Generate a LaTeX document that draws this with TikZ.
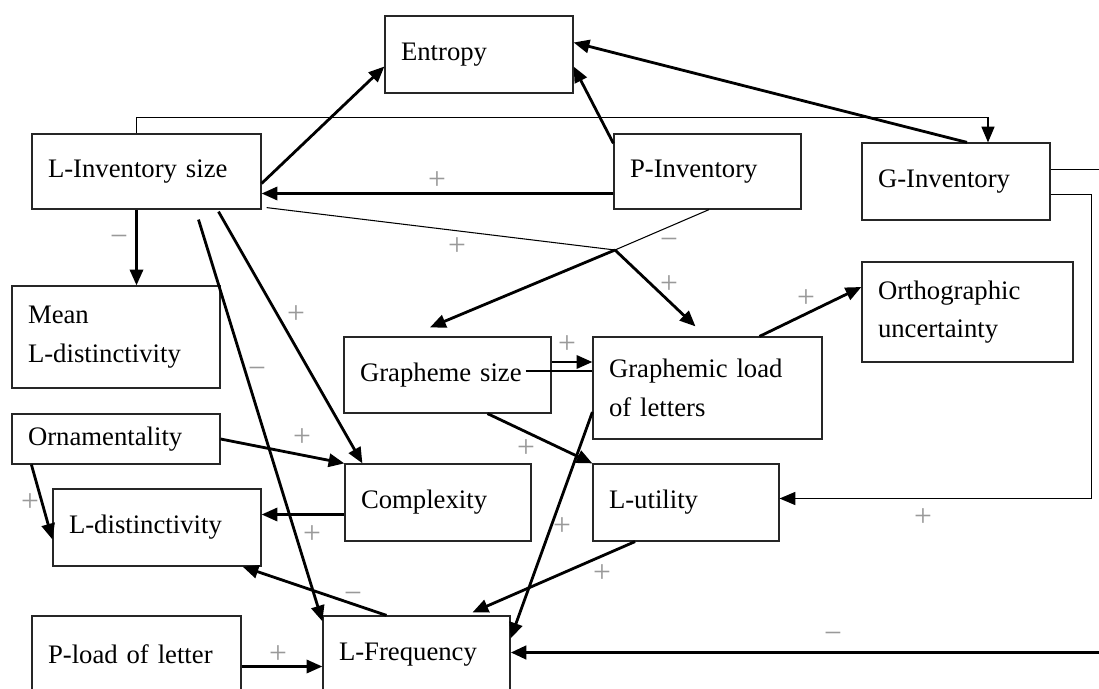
\documentclass[tikz,border=0pt]{standalone}
\usepackage{fontspec}
\setmainfont{Liberation Serif}
\usetikzlibrary{arrows.meta,calc}
\begin{document}
\begin{tikzpicture}[>={Triangle[length=9pt,width=7.5pt]}, x=0.02cm, y=-0.02cm,
    box/.style={draw=black!85, line width=0.7pt, inner xsep=0.32cm, inner ysep=0pt, align=left, font=\fontsize{15.2}{22}\selectfont},
    conn/.style={line width=1.6pt},
    thinc/.style={line width=0.6pt},
    sgn/.style={text=black!40, font=\fontsize{18}{18}\selectfont, inner sep=0pt}]
    \useasboundingbox (0,0) rectangle (1099,689);
    \clip (0,0) rectangle (1099,689);

    \node[box, text width=3.12cm, minimum height=1.54cm] (ent) at (479,54.5) {Entropy};
    \node[box, text width=3.94cm, minimum height=1.5cm] (linv) at (146.5,171.5) {L-Inventory size};
    \node[box, text width=3.10cm, minimum height=1.5cm] (pinv) at (707.5,171.5) {P-Inventory};
    \node[box, text width=3.12cm, minimum height=1.54cm] (ginv) at (956,181.5) {G-Inventory};
    \node[box, text width=3.52cm, minimum height=2.04cm] (mean) at (116,337) {Mean\\L-distinctivity};
    \node[box, text width=3.58cm, minimum height=2cm] (orth) at (967.5,312) {Orthographic\\uncertainty};
    \node[box, text width=3.5cm, minimum height=1.52cm] (gsize) at (447.5,375) {Grapheme size};
    \node[box, text width=3.94cm, minimum height=2.04cm] (gload) at (707.5,388) {Graphemic load\\of letters};
    \node[box, text width=3.52cm, minimum height=1cm] (orn) at (116,439) {Ornamentality};
    \node[box, text width=3.08cm, minimum height=1.54cm] (cplx) at (438,502.5) {Complexity};
    \node[box, text width=3.08cm, minimum height=1.54cm] (lutil) at (686,502.5) {L-utility};
    \node[box, text width=3.52cm, minimum height=1.54cm] (ldist) at (157,527.5) {L-distinctivity};
    \node[box, text width=3.54cm, minimum height=1.54cm] (pload) at (136.5,654.5) {P-load of letter};
    \node[box, text width=3.10cm, minimum height=1.54cm] (lfreq) at (416.5,654.5) {L-Frequency};

    \coordinate (jn) at (615,250);
    \coordinate (rb) at ($(lfreq.east)+(605,-2)$);

    \draw[conn,->] ($(linv.east)+(0,12)$) -- ($(ent.west)+(0,12)$);
    \draw[conn,->] ($(ginv.north)+(11,0)$) -- ($(ent.east)+(0,-12)$);
    \draw[conn,->] ($(pinv.north west)+(0,10)$) -- ($(ent.east)+(0,12)$);
    \coordinate (p1) at ($(pinv.west)+(0,22)$);
    \draw[conn,->] (p1) -- (p1 -| linv.east);
    \draw[thinc,->] ($(linv.north)+(-10,0)$) -- ++(0,-16) -| ($(ginv.north)+(32,0)$);

    \draw[thinc] ($(linv.south east)+(5,-2)$) -- (jn);
    \draw[conn,->] (jn) -- ($(gload.north)+(-12,-10)$);
    \draw[thinc] ($(pinv.south)+(1.5,0)$) -- (jn);
    \draw[conn,->] (jn) -- ($(gsize.north)+(-17.5,-9)$);

    \coordinate (m1) at ($(linv.south)+(-10,0)$);
    \draw[conn,->] (m1) -- (m1 |- mean.north);
    \draw[conn,->] ($(linv.south)+(52,10)$) -- ($(lfreq.north west)+(0,6)$);
    \draw[conn,->] ($(linv.south)+(72,2)$) -- ($(cplx.north west)+(18,0)$);
    \draw[conn,->] (orn.east) -- (cplx.north west);
    \draw[conn,->] ($(orn.south west)+(20,0)$) -- ($(ldist.west)+(0,12)$);
    \coordinate (c1) at ($(cplx.west)+(0,12)$);
    \draw[conn,->] (c1) -- (c1 -| ldist.east);
    \draw[conn,->] ($(lfreq.north)+(-30,0)$) -- ($(ldist.south east)+(-19,0)$);
    \coordinate (pl) at ($(pload.east)+(0,12)$);
    \draw[conn,->] (pl) -- (pl -| lfreq.west);

    \coordinate (g1) at ($(gsize.east)+(0,-13)$);
    \coordinate (g2) at ($(gsize.east)+(-26,-4)$);
    \draw[conn,->] (g1) -- (g1 -| gload.west);
    \draw[thinc] (g2) -- (g2 -| gload.west);
    \draw[conn,->] ($(gsize.south)+(40,0)$) -- (lutil.north west);
    \draw[conn,->] ($(gload.west)+(0,24)$) -- ($(lfreq.east)+(0,-16)$);
    \draw[conn,->] ($(lutil.south)+(-51,0)$) -- ($(lfreq.north)+(56,-3)$);
    \draw[conn,->] ($(gload.north)+(52,0)$) -- ($(orth.west)+(0,-25)$);

    \draw[thinc,->] ($(ginv.east)+(0,13)$) -- ++(41,0) |- ($(lutil.east)+(0,-4)$);
    \draw[thinc] ($(ginv.east)+(0,-12)$) -| (rb);
    \draw[conn,->,line width=2.2pt] (rb) -- (rb -| lfreq.east);

    \foreach \x/\y/\s [count=\i] in {437/181/+, 457/247/+, 669/244/−, 669/285/+,
        119/241/−, 257/373/−, 296/315/+, 302/438/+, 30/503/+, 312/535/+,
        353/598/−, 278/655/+, 567/345/+, 526/449/+, 562/527/+, 602/574/+,
        806/299/+, 923/518/+, 833/638/−}
    {
        \node[sgn] (sg\i) at (\x,\y) {\s};
    }

\end{tikzpicture}
\end{document}
